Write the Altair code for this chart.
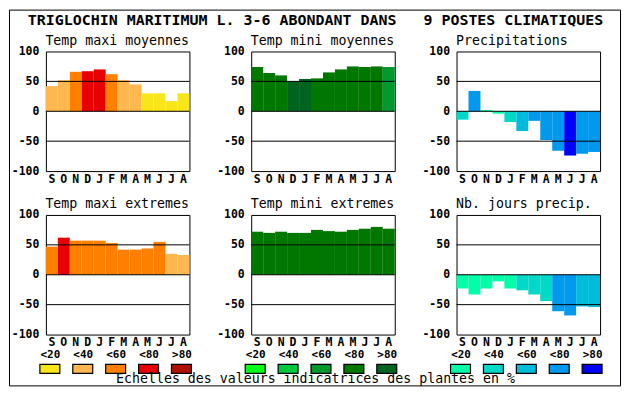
import altair as alt
import pandas as pd

# ---------------- data ----------------
months = ["S", "O", "N", "D", "J", "F", "M", "A", "M", "J", "J", "A"]
class_labels = ["<20", "<40", "<60", "<80", ">80"]

tmax_moy = [42, 52, 66, 67, 70, 62, 52, 45, 30, 30, 17, 30]
tmax_moy_cls = [1, 1, 2, 3, 3, 2, 1, 1, 0, 0, 0, 0]

tmin_moy = [74, 64, 60, 50, 54, 55, 65, 70, 75, 74, 75, 74]
tmin_moy_cls = [3, 3, 3, 4, 4, 3, 3, 3, 3, 3, 3, 2]

precip = [-14, 34, 2, -4, -18, -33, -16, -48, -66, -74, -71, -68]
precip_cls = [1, 3, 0, 0, 1, 2, 3, 3, 3, 4, 3, 3]

tmax_ext = [47, 62, 57, 57, 57, 53, 42, 42, 44, 55, 35, 33]
tmax_ext_cls = [2, 3, 2, 2, 2, 2, 2, 2, 2, 2, 1, 1]

tmin_ext = [72, 70, 72, 70, 70, 75, 73, 72, 75, 77, 80, 77]
tmin_ext_cls = [3, 3, 3, 3, 3, 3, 3, 3, 3, 3, 3, 3]

nb_jours = [-23, -33, -23, -11, -23, -26, -33, -44, -61, -68, -53, -54]
nb_jours_cls = [0, 0, 0, 0, 0, 1, 1, 1, 3, 3, 2, 2]

warm = ["#F8E51A", "#FFB850", "#FF8000", "#E80000", "#B01000"]
green = ["#00FF1A", "#00C83C", "#00992E", "#007800", "#006420"]
blue = ["#00FFA8", "#00D8C8", "#00BCDC", "#0099EE", "#0000FF"]

main_title = "TRIGLOCHIN MARITIMUM L. 3-6 ABONDANT DANS\u00a0\u00a0\u00a09 POSTES CLIMATIQUES"
caption = "Echelles des valeurs indicatrices des plantes en %"

# ---------------- layout constants ----------------
MONO = "DejaVu Sans Mono"
PW, PH = 144, 120
COL_GAP = 62
ROW_GAP = 44
LEG_TOP = 30      # legend boxes start this far below the bottom plot
LEG_H = 9

month_expr = "[" + ",".join(f"'{m}'" for m in months) + "][datum.value]"


def panel(title, vals, cls, pal, legend=False, frame=False, x_title=None,
          x_title_y=48, x_title_size=13.3, x_title_weight="normal"):
    df = pd.DataFrame({"i": list(range(12)), "v": vals, "c": cls})
    x_axis_kw = dict(labelExpr=month_expr, labelAngle=0, ticks=False,
                     domain=False, labelPadding=2, labelFont=MONO, labelFontSize=11.5,
                     labelFontWeight="bold", labelColor="black")
    if x_title:
        x_axis_kw.update(title=x_title, titleX=64, titleY=x_title_y, titleAlign="center",
                         titleBaseline="alphabetic", titleFont=MONO,
                         titleFontSize=x_title_size, titleFontWeight=x_title_weight,
                         titleColor="black")
    else:
        x_axis_kw.update(title=None)
    x = alt.X("i:O", scale=alt.Scale(paddingInner=0, paddingOuter=0),
              axis=alt.Axis(**x_axis_kw))
    y = alt.Y(
        "v:Q",
        scale=alt.Scale(domain=[-100, 100], nice=False),
        axis=alt.Axis(title=title, titleAngle=0, titleAlign="left",
                      titleBaseline="alphabetic", titleX=-1, titleY=-7,
                      titleFont=MONO, titleFontSize=13.3, titleFontWeight="normal",
                      titleColor="black",
                      values=[-100, -50, 0, 50, 100],
                      labelExpr="'' + datum.value", grid=False, ticks=False,
                      domain=False, labelFlush=False, labelPadding=7, labelFont=MONO,
                      labelFontSize=11.5, labelFontWeight="bold", labelColor="black"),
    )
    color = alt.Color("c:O", scale=alt.Scale(domain=[0, 1, 2, 3, 4], range=pal), legend=None)
    bars = alt.Chart(df).mark_bar(strokeWidth=0).encode(x=x, y=y, color=color)
    rules = alt.Chart(pd.DataFrame({"v": [-50, 0, 50]})).mark_rule(
        color="black", strokeWidth=1
    ).encode(y=y)
    layers = [bars, rules]
    if legend:
        ldf = pd.DataFrame({"lab": class_labels, "c": list(range(5))})
        box = alt.Chart(ldf).mark_bar(size=20, stroke="black", strokeWidth=1.2).encode(
            x=alt.X("lab:N", sort=class_labels,
                    scale=alt.Scale(type="point", range=[4, 136], padding=0),
                    axis=alt.Axis(orient="bottom", offset=16, title=None, ticks=False,
                                  domain=False, labelAngle=0, labelPadding=7,
                                  labelBaseline="alphabetic", labelFont=MONO,
                                  labelFontSize=11, labelFontWeight="bold",
                                  labelColor="black")),
            y=alt.value(PH + LEG_TOP), y2=alt.value(PH + LEG_TOP + LEG_H),
            color=color,
        )
        layers.append(box)
    if frame:
        fr = alt.Chart(pd.DataFrame({"f": [0]})).mark_rect(
            fillOpacity=0, stroke="black", strokeWidth=1
        ).encode(x=alt.value(-36.5), x2=alt.value(576.5),
                 y=alt.value(-205.5), y2=alt.value(171.5))
        layers.append(fr)
    ch = alt.layer(*layers).properties(width=PW, height=PH)
    if legend:
        ch = ch.resolve_scale(x="independent")
    return ch


chart = alt.concat(
    panel("Temp maxi moyennes", tmax_moy, tmax_moy_cls, warm),
    panel("Temp mini moyennes", tmin_moy, tmin_moy_cls, green, x_title=main_title,
          x_title_y=-147.3, x_title_size=15, x_title_weight="bold"),
    panel("Precipitations", precip, precip_cls, blue),
    panel("Temp maxi extremes", tmax_ext, tmax_ext_cls, warm, legend=True, frame=True),
    panel("Temp mini extremes", tmin_ext, tmin_ext_cls, green, legend=True, x_title=caption),
    panel("Nb. jours precip.", nb_jours, nb_jours_cls, blue, legend=True),
    columns=3, spacing={"row": ROW_GAP, "column": COL_GAP}, bounds="flush",
).resolve_scale(color="independent").properties(padding=0).configure_view(
    stroke="black", strokeWidth=1
)

chart.save("out.html", embed_options={"renderer": "svg", "actions": False})
